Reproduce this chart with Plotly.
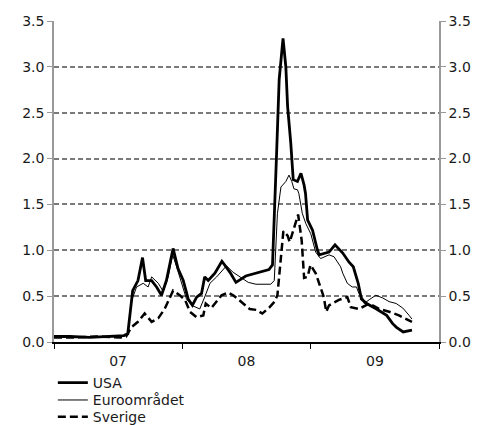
import plotly.graph_objects as go

usa_dates = ["2007-01-01","2007-02-15","2007-04-13","2007-06-09","2007-07-19","2007-07-30","2007-08-13","2007-08-28",
             "2007-09-10","2007-09-19","2007-10-06","2007-10-20","2007-11-03","2007-11-17","2007-12-06","2007-12-20",
             "2008-01-04","2008-01-18","2008-01-30","2008-02-11","2008-02-25","2008-03-05","2008-03-15","2008-04-03",
             "2008-04-23","2008-05-16","2008-06-02","2008-06-30","2008-08-03","2008-09-04","2008-09-14","2008-09-19",
             "2008-09-26","2008-10-03","2008-10-14","2008-10-22","2008-10-27","2008-11-05","2008-11-12","2008-11-24",
             "2008-12-04","2008-12-13","2008-12-17","2008-12-23","2009-01-06","2009-01-20","2009-01-25","2009-02-22",
             "2009-03-11","2009-04-02","2009-04-20","2009-05-02","2009-05-16","2009-05-25","2009-06-09","2009-07-07",
             "2009-08-05","2009-08-22","2009-09-02","2009-09-21","2009-10-16"]
usa_vals = [0.06,0.06,0.05,0.06,0.07,0.09,0.56,0.67,
            0.92,0.67,0.67,0.60,0.51,0.67,1.02,0.80,
            0.67,0.47,0.40,0.49,0.53,0.71,0.67,0.75,
            0.88,0.76,0.65,0.72,0.76,0.79,0.84,1.30,
            2.09,2.86,3.31,3.00,2.57,2.17,1.77,1.75,
            1.84,1.71,1.62,1.33,1.22,1.00,0.95,0.98,
            1.06,0.97,0.87,0.82,0.64,0.47,0.42,0.36,
            0.29,0.20,0.16,0.11,0.13]

euro_dates = ["2007-01-01","2007-03-01","2007-05-01","2007-07-15","2007-07-30","2007-08-10","2007-08-24","2007-09-12",
              "2007-09-26","2007-10-06","2007-10-25","2007-11-08","2007-11-22","2007-12-05","2007-12-16","2007-12-30",
              "2008-01-13","2008-01-28","2008-02-20","2008-03-05","2008-03-20","2008-04-08","2008-05-06","2008-05-25",
              "2008-06-13","2008-07-07","2008-07-29","2008-09-09","2008-09-19","2008-09-28","2008-10-08","2008-10-12",
              "2008-10-22","2008-10-31","2008-11-08","2008-11-14","2008-11-24","2008-11-28","2008-12-08","2008-12-18",
              "2009-01-01","2009-01-15","2009-01-29","2009-02-22","2009-03-08","2009-03-27","2009-04-02","2009-04-15",
              "2009-04-29","2009-05-11","2009-05-18","2009-05-30","2009-06-02","2009-06-16","2009-07-05","2009-07-25",
              "2009-08-12","2009-09-01","2009-09-20","2009-10-08","2009-10-16"]
euro_vals = [0.05,0.06,0.05,0.06,0.08,0.45,0.60,0.64,
             0.60,0.71,0.64,0.55,0.71,0.95,0.82,0.64,
             0.47,0.40,0.36,0.49,0.64,0.71,0.83,0.76,
             0.71,0.65,0.63,0.63,0.67,1.40,1.69,1.71,
             1.75,1.82,1.75,1.67,1.66,1.62,1.40,1.29,
             1.18,0.98,0.91,0.95,0.93,0.82,0.75,0.64,
             0.60,0.60,0.53,0.47,0.42,0.46,0.51,0.48,
             0.44,0.42,0.37,0.29,0.25]

swe_dates = ["2007-01-01","2007-03-01","2007-05-01","2007-07-10","2007-07-25","2007-08-09","2007-08-28","2007-09-16",
             "2007-10-06","2007-10-25","2007-11-12","2007-12-06","2007-12-25","2008-01-09","2008-01-23","2008-02-11",
             "2008-03-01","2008-03-08","2008-03-24","2008-04-22","2008-05-10","2008-05-25","2008-06-04","2008-06-27",
             "2008-07-11","2008-07-30","2008-08-16","2008-09-06","2008-09-20","2008-09-28","2008-10-08","2008-10-15",
             "2008-10-27","2008-11-02","2008-11-14","2008-11-26","2008-12-06","2008-12-13","2008-12-23","2008-12-31",
             "2009-01-15","2009-01-29","2009-02-07","2009-02-14","2009-02-22","2009-03-22","2009-04-15","2009-04-25",
             "2009-05-18","2009-06-16","2009-07-15","2009-08-12","2009-09-09","2009-10-16"]
swe_vals = [0.05,0.05,0.06,0.05,0.06,0.16,0.22,0.31,
            0.22,0.26,0.36,0.56,0.51,0.46,0.33,0.27,
            0.29,0.42,0.37,0.51,0.54,0.51,0.48,0.40,
            0.36,0.35,0.31,0.38,0.44,0.51,0.93,1.21,
            1.16,1.09,1.24,1.39,1.11,0.70,0.71,0.84,
            0.75,0.60,0.49,0.33,0.40,0.46,0.49,0.38,
            0.36,0.42,0.36,0.33,0.29,0.22]

series_names = ["USA", "Euroområdet", "Sverige"]
y_ticks = [0, 0.5, 1.0, 1.5, 2.0, 2.5, 3.0, 3.5]

FONT = "DejaVu Sans"
TXT = "#1a1a1a"
fig = go.Figure()
fig.add_trace(go.Scatter(x=usa_dates, y=usa_vals, name=series_names[0], mode="lines", legend="legend",
                         line=dict(color="black", width=2.8)))
fig.add_trace(go.Scatter(x=euro_dates, y=euro_vals, name=series_names[1], mode="lines", legend="legend2",
                         line=dict(color="black", width=1)))
fig.add_trace(go.Scatter(x=swe_dates, y=swe_vals, name=series_names[2], mode="lines", legend="legend3",
                         line=dict(color="black", width=2.5, dash="8px,4px")))
fig.add_trace(go.Scatter(x=usa_dates, y=usa_vals, yaxis="y2", mode="lines", showlegend=False,
                         hoverinfo="skip", line=dict(color="rgba(0,0,0,0)", width=0)))

yaxis_common = dict(range=[0, 3.5001], tickvals=y_ticks, ticktext=[f"{v:.1f}" for v in y_ticks],
                    showline=True, linecolor="#999999", linewidth=1.5, ticks="outside", ticklen=5,
                    tickcolor="#999999", zeroline=False, tickfont=dict(family=FONT, size=14, color=TXT))

leg_common = dict(x=-0.003, xanchor="left", yanchor="top", orientation="v",
                  font=dict(family=FONT, size=14, color=TXT), itemwidth=30,
                  bgcolor="rgba(0,0,0,0)")

fig.update_layout(
    width=478, height=417,
    margin=dict(l=46, r=47, t=13, b=83, autoexpand=False),
    plot_bgcolor="white", paper_bgcolor="white",
    font=dict(family=FONT, size=14, color=TXT),
    xaxis=dict(type="date", range=["2007-01-01", "2010-01-01"], tick0="2007-01-01", dtick="M12",
               ticklabelmode="period", tickformat="%y", showgrid=False, showline=True,
               linecolor="black", linewidth=1.5, ticks="outside", ticklen=5, tickcolor="black",
               tickfont=dict(family=FONT, size=14, color=TXT)),
    yaxis=dict(**yaxis_common, showgrid=True, gridcolor="#7a7a7a", gridwidth=1.5, griddash="5px,3px"),
    yaxis2=dict(**yaxis_common, overlaying="y", side="right", showgrid=False),
    legend=dict(**leg_common, y=-0.078),
    legend2=dict(**leg_common, y=-0.132),
    legend3=dict(**leg_common, y=-0.184),
    showlegend=True,
)

fig.write_html("out.html")
